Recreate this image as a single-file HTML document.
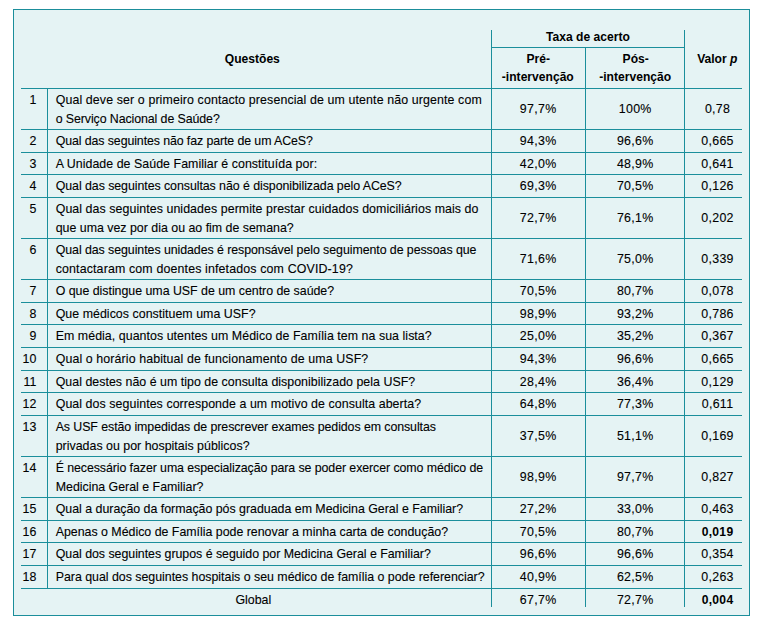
<!DOCTYPE html>
<html lang="pt"><head><meta charset="utf-8"><title>Tabela</title>
<style>
html,body{margin:0;padding:0;background:#fff;}
body{width:761px;height:624px;position:relative;overflow:hidden;}
.box{position:absolute;left:13px;top:9px;width:737px;height:607px;box-sizing:border-box;border:1px solid #1b8e9b;background:#e5f3f4;}
.h{position:absolute;height:1px;background:#1b8e9b;}
.v{position:absolute;width:1px;background:#1b8e9b;}
.t,.b{position:absolute;white-space:nowrap;font-family:"Liberation Sans",Arial,sans-serif;line-height:16px;color:#000;}
.t{font-size:12.4px;-webkit-text-stroke:0.1px #000;}
.b{font-size:12.1px;font-weight:bold;}
.c{width:200px;text-align:center;}
.r{width:100px;text-align:right;}
</style></head><body>
<div class="box"></div>
<div class="h" style="left:21px;top:88px;width:721px"></div>
<div class="h" style="left:21px;top:129px;width:721px"></div>
<div class="h" style="left:21px;top:152px;width:721px"></div>
<div class="h" style="left:21px;top:174px;width:721px"></div>
<div class="h" style="left:21px;top:197px;width:721px"></div>
<div class="h" style="left:21px;top:238px;width:721px"></div>
<div class="h" style="left:21px;top:279px;width:721px"></div>
<div class="h" style="left:21px;top:302px;width:721px"></div>
<div class="h" style="left:21px;top:324px;width:721px"></div>
<div class="h" style="left:21px;top:347px;width:721px"></div>
<div class="h" style="left:21px;top:370px;width:721px"></div>
<div class="h" style="left:21px;top:392px;width:721px"></div>
<div class="h" style="left:21px;top:415px;width:721px"></div>
<div class="h" style="left:21px;top:456px;width:721px"></div>
<div class="h" style="left:21px;top:497px;width:721px"></div>
<div class="h" style="left:21px;top:520px;width:721px"></div>
<div class="h" style="left:21px;top:542px;width:721px"></div>
<div class="h" style="left:21px;top:565px;width:721px"></div>
<div class="h" style="left:21px;top:588px;width:721px"></div>
<div class="h" style="left:491px;top:47px;width:194px"></div>
<div class="v" style="left:47px;top:88px;height:501px"></div>
<div class="v" style="left:491px;top:30px;height:577px"></div>
<div class="v" style="left:585px;top:47px;height:560px"></div>
<div class="v" style="left:684px;top:30px;height:577px"></div>
<div class="b c" style="left:488px;top:29px">Taxa de acerto</div>
<div class="b c" style="left:152.3px;top:51px">Questões</div>
<div class="b c" style="left:438.20000000000005px;top:51px">Pré-</div>
<div class="b c" style="left:437.79999999999995px;top:69px">-intervenção</div>
<div class="b c" style="left:535.7px;top:51px">Pós-</div>
<div class="b c" style="left:535.2px;top:69px">-intervenção</div>
<div class="b c" style="left:617.3px;top:51px">Valor <i>p</i></div>
<div class="t r" style="left:-63.7px;top:92px">1</div>
<div class="t" style="left:55.7px;top:92px;letter-spacing:0.111px">Qual deve ser o primeiro contacto presencial de um utente não urgente com</div>
<div class="t" style="left:55.7px;top:111px;letter-spacing:-0.096px">o Serviço Nacional de Saúde?</div>
<div class="t c" style="left:438.0px;top:101px;letter-spacing:0.3px;text-indent:0.3px">97,7%</div>
<div class="t c" style="left:535.1px;top:101px;letter-spacing:0.3px;text-indent:0.3px">100%</div>
<div class="t c" style="left:617.4px;top:101px;letter-spacing:0.3px;text-indent:0.3px">0,78</div>
<div class="t r" style="left:-63.7px;top:133px">2</div>
<div class="t" style="left:55.7px;top:133px;letter-spacing:-0.107px">Qual das seguintes não faz parte de um ACeS?</div>
<div class="t c" style="left:438.0px;top:133px;letter-spacing:0.3px;text-indent:0.3px">94,3%</div>
<div class="t c" style="left:535.1px;top:133px;letter-spacing:0.3px;text-indent:0.3px">96,6%</div>
<div class="t c" style="left:617.4px;top:133px;letter-spacing:0.3px;text-indent:0.3px">0,665</div>
<div class="t r" style="left:-63.7px;top:156px">3</div>
<div class="t" style="left:55.7px;top:156px;letter-spacing:0.038px">A Unidade de Saúde Familiar é constituída por:</div>
<div class="t c" style="left:438.0px;top:156px;letter-spacing:0.3px;text-indent:0.3px">42,0%</div>
<div class="t c" style="left:535.1px;top:156px;letter-spacing:0.3px;text-indent:0.3px">48,9%</div>
<div class="t c" style="left:617.4px;top:156px;letter-spacing:0.3px;text-indent:0.3px">0,641</div>
<div class="t r" style="left:-63.7px;top:178px">4</div>
<div class="t" style="left:55.7px;top:178px;letter-spacing:-0.065px">Qual das seguintes consultas não é disponibilizada pelo ACeS?</div>
<div class="t c" style="left:438.0px;top:178px;letter-spacing:0.3px;text-indent:0.3px">69,3%</div>
<div class="t c" style="left:535.1px;top:178px;letter-spacing:0.3px;text-indent:0.3px">70,5%</div>
<div class="t c" style="left:617.4px;top:178px;letter-spacing:0.3px;text-indent:0.3px">0,126</div>
<div class="t r" style="left:-63.7px;top:201px">5</div>
<div class="t" style="left:55.7px;top:201px;letter-spacing:0.064px">Qual das seguintes unidades permite prestar cuidados domiciliários mais do</div>
<div class="t" style="left:55.7px;top:220px;letter-spacing:-0.008px">que uma vez por dia ou ao fim de semana?</div>
<div class="t c" style="left:438.0px;top:210px;letter-spacing:0.3px;text-indent:0.3px">72,7%</div>
<div class="t c" style="left:535.1px;top:210px;letter-spacing:0.3px;text-indent:0.3px">76,1%</div>
<div class="t c" style="left:617.4px;top:210px;letter-spacing:0.3px;text-indent:0.3px">0,202</div>
<div class="t r" style="left:-63.7px;top:242px">6</div>
<div class="t" style="left:55.7px;top:242px;letter-spacing:-0.070px">Qual das seguintes unidades é responsável pelo seguimento de pessoas que</div>
<div class="t" style="left:55.7px;top:261px;letter-spacing:0.141px">contactaram com doentes infetados com COVID-19?</div>
<div class="t c" style="left:438.0px;top:251px;letter-spacing:0.3px;text-indent:0.3px">71,6%</div>
<div class="t c" style="left:535.1px;top:251px;letter-spacing:0.3px;text-indent:0.3px">75,0%</div>
<div class="t c" style="left:617.4px;top:251px;letter-spacing:0.3px;text-indent:0.3px">0,339</div>
<div class="t r" style="left:-63.7px;top:283px">7</div>
<div class="t" style="left:55.7px;top:283px;letter-spacing:-0.027px">O que distingue uma USF de um centro de saúde?</div>
<div class="t c" style="left:438.0px;top:283px;letter-spacing:0.3px;text-indent:0.3px">70,5%</div>
<div class="t c" style="left:535.1px;top:283px;letter-spacing:0.3px;text-indent:0.3px">80,7%</div>
<div class="t c" style="left:617.4px;top:283px;letter-spacing:0.3px;text-indent:0.3px">0,078</div>
<div class="t r" style="left:-63.7px;top:306px">8</div>
<div class="t" style="left:55.7px;top:306px;letter-spacing:0.030px">Que médicos constituem uma USF?</div>
<div class="t c" style="left:438.0px;top:306px;letter-spacing:0.3px;text-indent:0.3px">98,9%</div>
<div class="t c" style="left:535.1px;top:306px;letter-spacing:0.3px;text-indent:0.3px">93,2%</div>
<div class="t c" style="left:617.4px;top:306px;letter-spacing:0.3px;text-indent:0.3px">0,786</div>
<div class="t r" style="left:-63.7px;top:328px">9</div>
<div class="t" style="left:55.7px;top:328px;letter-spacing:0.043px">Em média, quantos utentes um Médico de Família tem na sua lista?</div>
<div class="t c" style="left:438.0px;top:328px;letter-spacing:0.3px;text-indent:0.3px">25,0%</div>
<div class="t c" style="left:535.1px;top:328px;letter-spacing:0.3px;text-indent:0.3px">35,2%</div>
<div class="t c" style="left:617.4px;top:328px;letter-spacing:0.3px;text-indent:0.3px">0,367</div>
<div class="t r" style="left:-63.7px;top:351px">10</div>
<div class="t" style="left:55.7px;top:351px;letter-spacing:0.104px">Qual o horário habitual de funcionamento de uma USF?</div>
<div class="t c" style="left:438.0px;top:351px;letter-spacing:0.3px;text-indent:0.3px">94,3%</div>
<div class="t c" style="left:535.1px;top:351px;letter-spacing:0.3px;text-indent:0.3px">96,6%</div>
<div class="t c" style="left:617.4px;top:351px;letter-spacing:0.3px;text-indent:0.3px">0,665</div>
<div class="t r" style="left:-63.7px;top:374px">11</div>
<div class="t" style="left:55.7px;top:374px;letter-spacing:0.021px">Qual destes não é um tipo de consulta disponibilizado pela USF?</div>
<div class="t c" style="left:438.0px;top:374px;letter-spacing:0.3px;text-indent:0.3px">28,4%</div>
<div class="t c" style="left:535.1px;top:374px;letter-spacing:0.3px;text-indent:0.3px">36,4%</div>
<div class="t c" style="left:617.4px;top:374px;letter-spacing:0.3px;text-indent:0.3px">0,129</div>
<div class="t r" style="left:-63.7px;top:396px">12</div>
<div class="t" style="left:55.7px;top:396px;letter-spacing:0.062px">Qual dos seguintes corresponde a um motivo de consulta aberta?</div>
<div class="t c" style="left:438.0px;top:396px;letter-spacing:0.3px;text-indent:0.3px">64,8%</div>
<div class="t c" style="left:535.1px;top:396px;letter-spacing:0.3px;text-indent:0.3px">77,3%</div>
<div class="t c" style="left:617.4px;top:396px;letter-spacing:0.3px;text-indent:0.3px">0,611</div>
<div class="t r" style="left:-63.7px;top:419px">13</div>
<div class="t" style="left:55.7px;top:419px;letter-spacing:-0.086px">As USF estão impedidas de prescrever exames pedidos em consultas</div>
<div class="t" style="left:55.7px;top:438px;letter-spacing:0.009px">privadas ou por hospitais públicos?</div>
<div class="t c" style="left:438.0px;top:428px;letter-spacing:0.3px;text-indent:0.3px">37,5%</div>
<div class="t c" style="left:535.1px;top:428px;letter-spacing:0.3px;text-indent:0.3px">51,1%</div>
<div class="t c" style="left:617.4px;top:428px;letter-spacing:0.3px;text-indent:0.3px">0,169</div>
<div class="t r" style="left:-63.7px;top:460px">14</div>
<div class="t" style="left:55.7px;top:460px;letter-spacing:-0.088px">É necessário fazer uma especialização para se poder exercer como médico de</div>
<div class="t" style="left:55.7px;top:479px;letter-spacing:-0.012px">Medicina Geral e Familiar?</div>
<div class="t c" style="left:438.0px;top:469px;letter-spacing:0.3px;text-indent:0.3px">98,9%</div>
<div class="t c" style="left:535.1px;top:469px;letter-spacing:0.3px;text-indent:0.3px">97,7%</div>
<div class="t c" style="left:617.4px;top:469px;letter-spacing:0.3px;text-indent:0.3px">0,827</div>
<div class="t r" style="left:-63.7px;top:501px">15</div>
<div class="t" style="left:55.7px;top:501px;letter-spacing:-0.016px">Qual a duração da formação pós graduada em Medicina Geral e Familiar?</div>
<div class="t c" style="left:438.0px;top:501px;letter-spacing:0.3px;text-indent:0.3px">27,2%</div>
<div class="t c" style="left:535.1px;top:501px;letter-spacing:0.3px;text-indent:0.3px">33,0%</div>
<div class="t c" style="left:617.4px;top:501px;letter-spacing:0.3px;text-indent:0.3px">0,463</div>
<div class="t r" style="left:-63.7px;top:524px">16</div>
<div class="t" style="left:55.7px;top:524px;letter-spacing:-0.014px">Apenas o Médico de Família pode renovar a minha carta de condução?</div>
<div class="t c" style="left:438.0px;top:524px;letter-spacing:0.3px;text-indent:0.3px">70,5%</div>
<div class="t c" style="left:535.1px;top:524px;letter-spacing:0.3px;text-indent:0.3px">80,7%</div>
<div class="b c" style="left:617.4px;top:524px;letter-spacing:0.3px;text-indent:0.3px">0,019</div>
<div class="t r" style="left:-63.7px;top:546px">17</div>
<div class="t" style="left:55.7px;top:546px;letter-spacing:-0.035px">Qual dos seguintes grupos é seguido por Medicina Geral e Familiar?</div>
<div class="t c" style="left:438.0px;top:546px;letter-spacing:0.3px;text-indent:0.3px">96,6%</div>
<div class="t c" style="left:535.1px;top:546px;letter-spacing:0.3px;text-indent:0.3px">96,6%</div>
<div class="t c" style="left:617.4px;top:546px;letter-spacing:0.3px;text-indent:0.3px">0,354</div>
<div class="t r" style="left:-63.7px;top:569px">18</div>
<div class="t" style="left:55.7px;top:569px;letter-spacing:-0.021px">Para qual dos seguintes hospitais o seu médico de família o pode referenciar?</div>
<div class="t c" style="left:438.0px;top:569px;letter-spacing:0.3px;text-indent:0.3px">40,9%</div>
<div class="t c" style="left:535.1px;top:569px;letter-spacing:0.3px;text-indent:0.3px">62,5%</div>
<div class="t c" style="left:617.4px;top:569px;letter-spacing:0.3px;text-indent:0.3px">0,263</div>
<div class="t c" style="left:153.3px;top:592px">Global</div>
<div class="t c" style="left:438.0px;top:592px;letter-spacing:0.3px;text-indent:0.3px">67,7%</div>
<div class="t c" style="left:535.1px;top:592px;letter-spacing:0.3px;text-indent:0.3px">72,7%</div>
<div class="b c" style="left:617.4px;top:592px;letter-spacing:0.3px;text-indent:0.3px">0,004</div>
</body></html>
